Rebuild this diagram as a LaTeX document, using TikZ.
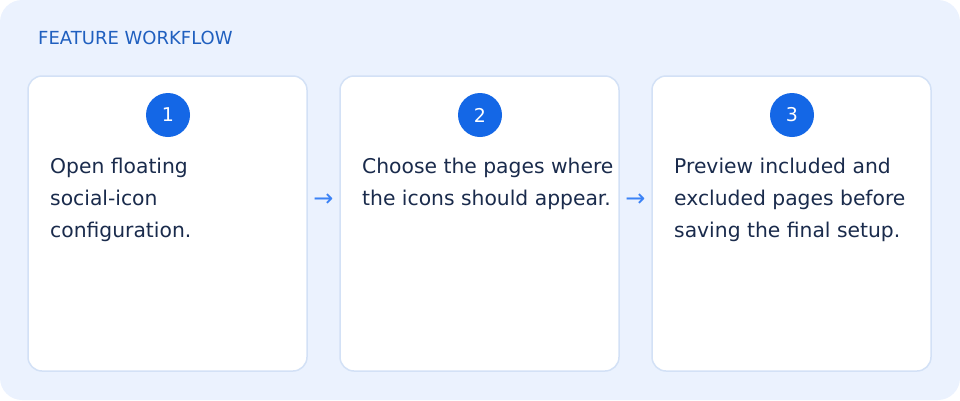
\documentclass[tikz,border=0pt]{standalone}
\usepackage{fontspec}
\setmainfont{DejaVu Sans}
\definecolor{bgc}{HTML}{EBF2FE}
\definecolor{cardborder}{HTML}{D3E1F6}
\definecolor{titlec}{HTML}{1F5FBF}
\definecolor{circc}{HTML}{1467E6}
\definecolor{textc}{HTML}{1A2B4C}
\definecolor{arrowc}{HTML}{3B82F6}
\begin{document}
\begin{tikzpicture}[x=1pt,y=-1pt,
  card/.style={draw=cardborder,line width=1.5pt,fill=white,rounded corners=14pt},
  numc/.style={circle,fill=circc,text=white,minimum size=44pt,inner sep=0pt,font=\fontsize{19}{19}\selectfont},
  body/.style={anchor=north west,align=left,text=textc,inner sep=0pt,font=\fontsize{20.3}{32}\selectfont},
  arr/.style={text=arrowc,font=\fontsize{24}{24}\selectfont,inner sep=0pt}]
\useasboundingbox (0,0) rectangle (960,400);
\fill[bgc,rounded corners=22pt] (0,0) rectangle (960,400);
\node[anchor=base west,text=titlec,inner sep=0pt,font=\fontsize{18}{18}\selectfont] (title) at (38,44) {FEATURE WORKFLOW};
\draw[card] (28,76) rectangle (307,371);
\draw[card] (340,76) rectangle (619,371);
\draw[card] (652,76) rectangle (931,371);
\node[numc] (n1) at (168,115) {1};
\node[numc] (n2) at (480,115) {2};
\node[numc] (n3) at (792,115) {3};
\node[body] (t1) at (50,157.5) {Open floating\\social-icon\\configuration.};
\node[body] (t2) at (362,157.5) {Choose the pages where\\the icons should appear.};
\node[body] (t3) at (674,157.5) {Preview included and\\excluded pages before\\saving the final setup.};
\node[arr] (a1) at (323.5,200) {→};
\node[arr] (a2) at (635.5,200) {→};
\end{tikzpicture}
\end{document}
